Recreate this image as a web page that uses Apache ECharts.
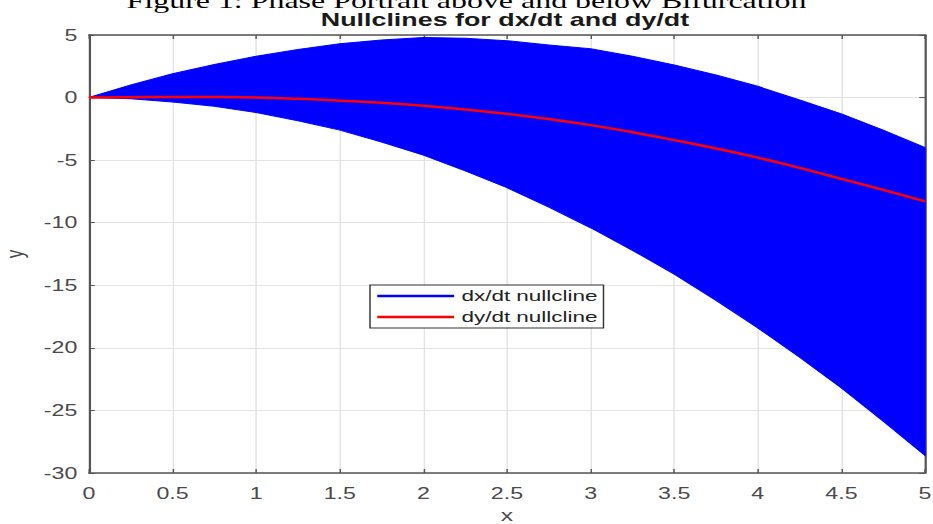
<!DOCTYPE html>
<html>
<head>
  <meta charset="utf-8" />
  <title>Nullclines</title>
  <script src="https://cdn.jsdelivr.net/npm/echarts@6/dist/echarts.min.js"></script>
  <style>
    body {
      margin: 0;
      padding: 0;
      overflow: hidden;
      background: #fff;
    }

    /* the reference is a horizontally stretched figure, so the chart is drawn narrow and stretched */
    #main {
      width: 643px;
      height: 524px;
      transform: scaleX(1.451);
      transform-origin: 0 0;
    }
  </style>
</head>
<body>
  <div id="main"></div>
  <script>
    var xs = [0, 0.25, 0.5, 0.75, 1, 1.25, 1.5, 1.75, 2, 2.25, 2.5, 2.75, 3, 3.25, 3.5, 3.75, 4, 4.25, 4.5, 4.75, 5];
    var dxUpper = [0, 1.0, 1.9, 2.65, 3.3, 3.85, 4.3, 4.6, 4.8, 4.75, 4.55, 4.2, 3.9, 3.3, 2.6, 1.8, 0.9, -0.2, -1.3, -2.6, -4.0];
    var dxLower = [0, -0.1, -0.35, -0.7, -1.2, -1.85, -2.6, -3.55, -4.6, -5.85, -7.2, -8.75, -10.4, -12.2, -14.1, -16.2, -18.4, -20.75, -23.2, -25.85, -28.6];
    var dyLine = [0, 0.03, 0.05, 0.04, 0, -0.1, -0.25, -0.42, -0.65, -0.95, -1.3, -1.72, -2.2, -2.77, -3.4, -4.07, -4.8, -5.62, -6.5, -7.38, -8.3];
    var xTicks = { min: 0, max: 5, interval: 0.5 };
    var yTicks = { min: -30, max: 5, interval: 5 };

    var axisColor = '#555';
    var labelColor = '#4a4a4a';
    var font = 'Liberation Sans, Arial, Helvetica, sans-serif';

    var redData = xs.map(function(x, i) { return [x, dyLine[i]]; });

    var chart = echarts.init(document.getElementById('main'), null, { renderer: 'svg' });

    function xAxisOf(pos) {
      var main = pos === 'bottom';
      return {
        type: 'value',
        position: pos,
        min: xTicks.min,
        max: xTicks.max,
        interval: xTicks.interval,
        name: main ? 'x' : '',
        nameLocation: 'middle',
        nameGap: 33,
        nameTextStyle: { color: labelColor, fontSize: 17, fontFamily: font },
        axisLine: { show: true, onZero: false, lineStyle: { color: axisColor, width: 1.5 } },
        axisTick: { show: true, inside: true, length: 4, lineStyle: { color: axisColor } },
        axisLabel: { show: main, color: labelColor, fontSize: 16, fontFamily: font, margin: 12 },
        splitLine: { show: main, lineStyle: { color: '#e3e3e3', width: 1 } }
      };
    }

    function yAxisOf(pos) {
      var main = pos === 'left';
      return {
        type: 'value',
        position: pos,
        min: yTicks.min,
        max: yTicks.max,
        interval: yTicks.interval,
        name: main ? 'y' : '',
        nameLocation: 'middle',
        nameRotate: 90,
        nameGap: 43,
        nameTextStyle: { color: labelColor, fontSize: 17, fontFamily: font },
        axisLine: { show: true, onZero: false, lineStyle: { color: axisColor, width: 1.5 } },
        axisTick: { show: true, inside: true, length: 4, lineStyle: { color: axisColor } },
        axisLabel: { show: main, color: labelColor, fontSize: 16, fontFamily: font, margin: 8 },
        splitLine: { show: main, lineStyle: { color: '#e3e3e3', width: 1 } }
      };
    }

    // filled band between the lower and upper dx/dt curves
    function renderBand(params, api) {
      var pts = [];
      for (var i = 0; i < xs.length; i++) {
        pts.push(api.coord([xs[i], dxUpper[i]]));
      }
      for (var j = xs.length - 1; j >= 0; j--) {
        pts.push(api.coord([xs[j], dxLower[j]]));
      }
      return {
        type: 'polygon',
        shape: { points: pts },
        style: { fill: '#0000ff', stroke: '#0000ff', lineWidth: 1 }
      };
    }

    chart.setOption({
      animation: false,
      backgroundColor: '#fff',
      grid: { left: 61.3, right: 5.5, top: 35, bottom: 51, outerBoundsMode: 'none' },
      graphic: [{
        type: 'text',
        x: 321.5,
        y: 0.5,
        style: {
          text: 'Figure 1: Phase Portrait above and below Bifurcation',
          font: '22px "Liberation Serif", "Times New Roman", serif',
          fill: '#000',
          align: 'center',
          verticalAlign: 'middle',
          textAlign: 'center',
          textVerticalAlign: 'middle'
        }
      }, {
        type: 'text',
        x: 348,
        y: 20,
        style: {
          text: 'Nullclines for dx/dt and dy/dt',
          font: 'bold 18.5px "Liberation Sans", Arial, sans-serif',
          fill: '#1a1a1a',
          align: 'center',
          verticalAlign: 'middle',
          textAlign: 'center',
          textVerticalAlign: 'middle'
        }
      }],
      legend: {
        data: ['dx/dt nullcline', 'dy/dt nullcline'],
        orient: 'vertical',
        left: 255,
        top: 285,
        icon: 'rect',
        itemWidth: 53,
        itemHeight: 2.5,
        itemGap: 5,
        padding: [3, 4, 3, 5],
        borderColor: '#333',
        borderWidth: 1,
        backgroundColor: '#fff',
        textStyle: { color: '#222', fontSize: 15.5, fontFamily: font }
      },
      xAxis: [xAxisOf('bottom'), xAxisOf('top')],
      yAxis: [yAxisOf('left'), yAxisOf('right')],
      series: [{
        name: 'dx/dt nullcline',
        type: 'custom',
        renderItem: renderBand,
        data: [[0, 0]],
        itemStyle: { color: '#0000ff' },
        silent: true
      }, {
        name: 'dy/dt nullcline',
        type: 'line',
        smooth: true,
        symbol: 'none',
        z: 5,
        data: redData,
        itemStyle: { color: '#ff0000' },
        lineStyle: { color: '#ff0000', width: 2.5 }
      }]
    });
  </script>
</body>
</html>
